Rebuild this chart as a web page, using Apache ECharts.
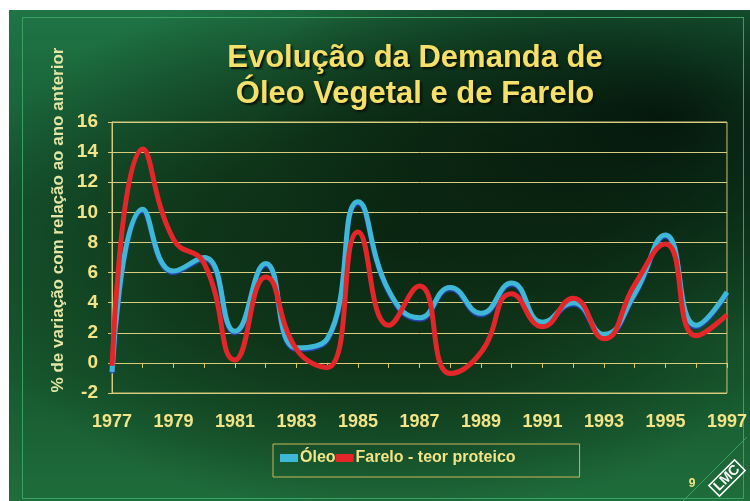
<!DOCTYPE html>
<html>
<head>
<meta charset="utf-8">
<script src="https://cdn.jsdelivr.net/npm/echarts@6/dist/echarts.min.js"></script>
<style>
  body { margin: 0; background: #fff; }
  #slide {
    position: absolute; left: 9px; top: 10px; width: 741px; height: 491px;
    background:
      radial-gradient(ellipse 55% 45% at 88% 22%, rgba(2,14,6,0.85) 0%, rgba(2,14,6,0) 100%),
      radial-gradient(ellipse 60% 55% at 52% 48%, #0b2913 0%, #0f3519 45%, rgba(20,80,44,0) 100%),
      linear-gradient(180deg, #1f7446 0%, #15552f 40%, #17592f 75%, #1f6d3b 100%);
  }
  #frame {
    position: absolute; left: 13px; top: 7px; width: 720px; height: 480px;
    border: 1px solid #3aa062;
  }
  #chart { position: absolute; left: 0; top: 0; width: 750px; height: 501px; }
</style>
</head>
<body>
<div id="slide"><div id="frame"></div></div>
<div id="chart"></div>
<script>
// anos
const years = ['1977','1978','1979','1980','1981','1982','1983','1984','1985','1986','1987',
               '1988','1989','1990','1991','1992','1993','1994','1995','1996','1997'];
// % de variação com relação ao ano anterior
const oleo   = [-0.6, 10.2, 6.1, 7.0, 2.1, 6.6, 1.0, 1.6, 10.7, 4.8, 3.0,
                 5.0, 3.3, 5.3, 2.7, 4.0, 1.9, 4.6, 8.5, 2.5, 4.7];
const farelo = [-0.2, 14.2, 8.2, 6.6, 0.2, 5.7, 0.9, -0.3, 8.7, 2.5, 5.1,
                -0.7, 0.7, 4.6, 2.4, 4.3, 1.6, 5.2, 7.9, 1.8, 3.2];

const yellow = '#f2e488';
const font = 'Liberation Sans, Arial, sans-serif';

const chart = echarts.init(document.getElementById('chart'));
chart.setOption({
  backgroundColor: 'transparent',
  animation: false,
  title: {
    text: 'Evolução da Demanda de\nÓleo Vegetal e de Farelo',
    left: 410,
    top: 35,
    textAlign: 'center',
    textStyle: {
      color: '#f5e06a',
      fontFamily: font,
      fontWeight: 'bold',
      fontSize: 31,
      lineHeight: 36,
      textShadowColor: 'rgba(10,15,5,0.9)',
      textShadowOffsetX: 2,
      textShadowOffsetY: 2,
      textShadowBlur: 2
    }
  },
  legend: {
    left: 273,
    top: 444,
    padding: [6, 64, 11, 7],
    itemGap: 0,
    itemWidth: 18,
    itemHeight: 8,
    icon: 'rect',
    borderColor: '#c9b65a',
    borderWidth: 1,
    textStyle: { color: yellow, fontFamily: font, fontWeight: 'bold', fontSize: 16, padding: [0, 0, 0, -3] },
    data: ['Óleo', 'Farelo - teor proteico']
  },
  grid: {
    left: 112, right: 18, top: 122, bottom: 108,
    show: true,
    borderColor: '#cfc274',
    borderWidth: 1
  },
  xAxis: {
    type: 'category',
    data: years,
    boundaryGap: false,
    axisLine: { onZero: true, lineStyle: { color: '#d8cb7a', width: 1 } },
    axisTick: { interval: 0, length: 5, lineStyle: { color: '#d8cb7a' } },
    axisLabel: {
      interval: 1, margin: 20, color: yellow,
      fontFamily: font, fontWeight: 'bold', fontSize: 18
    },
    splitLine: { show: false }
  },
  yAxis: {
    type: 'value',
    min: -2, max: 16, interval: 2,
    axisLine: { show: true, lineStyle: { color: '#d8cb7a' } },
    axisTick: { show: true, length: 4, lineStyle: { color: '#d8cb7a' } },
    axisLabel: { color: yellow, fontFamily: font, fontWeight: 'bold', fontSize: 19, margin: 14 },
    splitLine: { lineStyle: { color: '#d8cc80', width: 1 } }
  },
  series: [
    {
      name: 'Óleo',
      type: 'line',
      data: oleo,
      smooth: 0.5,
      symbol: 'none',
      color: '#3fb8d8',
      lineStyle: { width: 5, color: '#3fb8d8', shadowColor: 'rgba(40,70,200,0.9)', shadowOffsetY: 1.5, shadowBlur: 1 }
    },
    {
      name: 'Farelo - teor proteico',
      type: 'line',
      data: farelo,
      smooth: 0.5,
      symbol: 'none',
      color: '#e3262a',
      lineStyle: { width: 5, color: '#e3262a' }
    }
  ],
  graphic: [
    {
      type: 'text',
      x: 58, y: 220,
      rotation: Math.PI / 2,
      style: {
        text: '% de variação com relação ao ano anterior',
        fill: '#e4e6a6',
        font: 'bold 17px Liberation Sans, Arial, sans-serif',
        align: 'center',
        verticalAlign: 'middle'
      }
    },
    {
      type: 'text',
      x: 692, y: 484,
      style: { text: '9', fill: yellow, font: 'bold 12px Liberation Sans, Arial, sans-serif', align: 'center', verticalAlign: 'middle' }
    },
    {
      type: 'line',
      shape: { x1: 683, y1: 501, x2: 747, y2: 437 },
      style: { stroke: '#3aa062', lineWidth: 1 }
    },
    {
      type: 'text',
      x: 727, y: 478,
      rotation: Math.PI / 4,
      style: {
        text: 'LMC', fill: '#ffffff',
        font: 'bold 14px Liberation Sans, Arial, sans-serif',
        align: 'center', verticalAlign: 'middle',
        borderColor: '#ffffff', borderWidth: 1.5, padding: [1, 3, 0, 3]
      }
    }
  ]
});
</script>
</body>
</html>
